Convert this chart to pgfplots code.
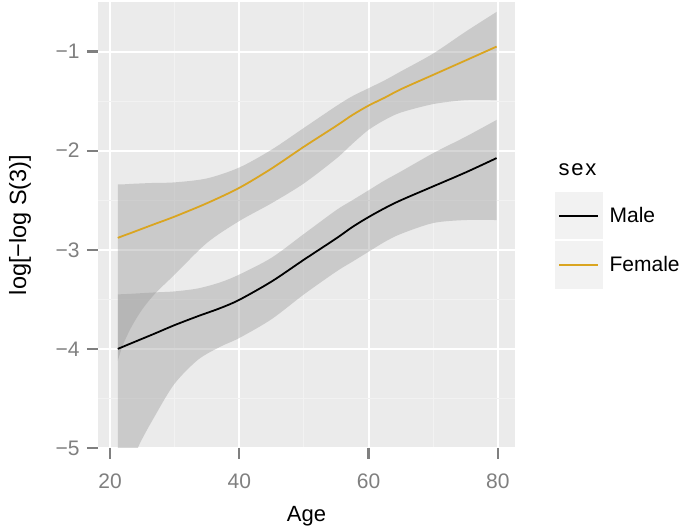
\documentclass[border=0pt]{standalone}
\usepackage{fontspec}
\setmainfont{Liberation Sans}
\usepackage{pgfplots}
\usepackage{pgfplotstable}
\pgfplotsset{compat=1.18}
\usepgfplotslibrary{fillbetween}

\definecolor{panel}{HTML}{EBEBEB}
\definecolor{minorgrid}{HTML}{F2F2F2}
\definecolor{tickgrey}{HTML}{7F7F7F}
\definecolor{ribbon}{HTML}{999999}
\definecolor{keybg}{HTML}{F2F2F2}
\definecolor{female}{HTML}{DAA520}

% columns: age, fitted value, upper and lower band
\pgfplotstableread{
x     fit     upr     lwr
21.2  -2.880  -2.34   -4.12
22    -2.860  -2.34   -3.96
23.3  -2.829  -2.335  -3.78
25    -2.787  -2.33   -3.60
27    -2.738  -2.325  -3.44
30    -2.665  -2.32   -3.25
35    -2.53   -2.28   -2.93
40    -2.375  -2.17   -2.71
45    -2.18   -1.99   -2.53
50    -1.96   -1.77   -2.33
55    -1.75   -1.55   -2.08
57.5  -1.64   -1.45   -1.93
60    -1.545  -1.37   -1.79
62.5  -1.465  -1.29   -1.69
65    -1.38   -1.20   -1.615
70    -1.235  -1.02   -1.53
75    -1.09   -0.80   -1.49
79.8  -0.95   -0.60   -1.49
}\female

\pgfplotstableread{
x     fit     upr     lwr
21.2  -4.000  -3.45   -5.8
23    -3.951  -3.445  -5.3
24.3  -3.916  -3.44   -5.0
27    -3.843  -3.43   -4.67
30    -3.76   -3.42   -4.35
33.6  -3.67   -3.39   -4.11
37    -3.59   -3.33   -3.98
40    -3.505  -3.25   -3.89
45    -3.32   -3.08   -3.70
50    -3.10   -2.84   -3.45
55    -2.885  -2.60   -3.22
57.5  -2.77   -2.50   -3.12
60    -2.67   -2.40   -3.02
62.5  -2.58   -2.30   -2.92
65    -2.50   -2.21   -2.84
70    -2.36   -2.025  -2.73
75    -2.22   -1.86   -2.70
79.8  -2.075  -1.69   -2.70
}\male

\begin{document}
\begin{tikzpicture}
\path (-98pt,-81pt) rectangle (599pt,448pt);
\begin{axis}[
  at={(0,0)}, anchor=south west,
  width=417pt, height=446pt, scale only axis,
  xmin=18.14, xmax=82.65, ymin=-5.0, ymax=-0.5,
  axis background/.style={fill=panel},
  axis line style={draw=none},
  xtick={20,40,60,80}, minor xtick={30,50,70},
  xticklabels={20,40,60,80},
  ytick={-5,-4,-3,-2,-1}, minor ytick={-4.5,-3.5,-2.5,-1.5},
  yticklabels={−5,−4,−3,−2,−1},
  grid=both,
  major grid style={white, line width=2pt},
  minor grid style={minorgrid, line width=1pt},
  tick align=outside, tick pos=left,
  major tick length=11pt, minor tick length=0pt,
  tick style={tickgrey, line width=2.2pt},
  tick label style={font=\fontsize{21}{21}\selectfont, text=tickgrey},
  xticklabel style={yshift=-11pt},
  yticklabel style={xshift=-4pt},
  xlabel={Age}, ylabel={log[−log S(3)]},
  every axis x label/.style={at={(axis description cs:0.5,-0.154)}, anchor=center,
    font=\fontsize{22}{22}\selectfont},
  every axis y label/.style={at={(axis description cs:-0.187,0.5)}, anchor=center, rotate=90,
    font=\fontsize{23.5}{23.5}\selectfont},
  legend style={at={(axis description cs:1.0959,0.5747)}, anchor=north west,
    draw=none, fill=none, inner sep=0pt, row sep=2pt,
    font=\fontsize{21}{21}\selectfont,
    nodes={inner sep=0pt},
    /tikz/every odd column/.style={column sep=7pt}},
  legend cell align=left,
  legend image code/.code={
    \fill[keybg] (0pt,-22.8pt) rectangle (45.6pt,22.8pt);
    \draw[#1, line width=2pt] (3pt,0pt) -- (42pt,0pt);
  },
]
\addplot[draw=none, smooth, name path=fu, forget plot] table[x=x, y=upr] {\female};
\addplot[draw=none, smooth, name path=fl, forget plot] table[x=x, y=lwr] {\female};
\addplot[ribbon, fill opacity=0.4, forget plot] fill between[of=fu and fl];
\addplot[draw=none, smooth, name path=mu, forget plot] table[x=x, y=upr] {\male};
\addplot[draw=none, smooth, name path=ml, forget plot] table[x=x, y=lwr] {\male};
\addplot[ribbon, fill opacity=0.4, forget plot] fill between[of=mu and ml];

\addplot[black, line width=1.8pt, smooth] table[x=x, y=fit] {\male};
\addlegendentry{Male}
\addplot[female, line width=1.8pt, smooth] table[x=x, y=fit] {\female};
\addlegendentry{Female}
\end{axis}
\node[anchor=west, font=\fontsize{22}{22}\selectfont] at (457pt,278pt) {\addfontfeature{LetterSpace=8}sex};
\end{tikzpicture}
\end{document}
